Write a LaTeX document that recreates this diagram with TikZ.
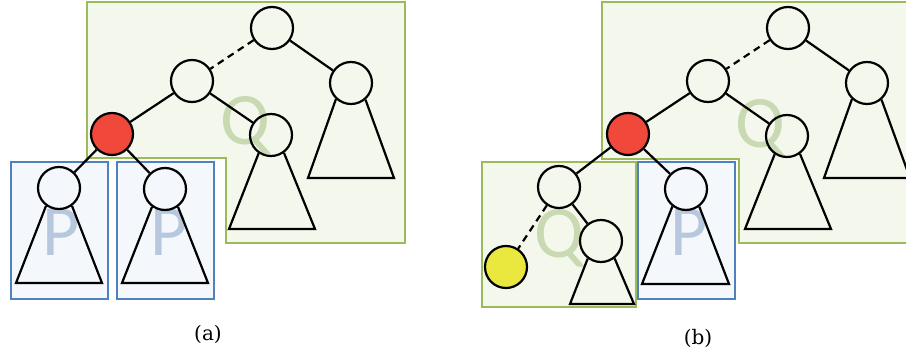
\documentclass[tikz,border=0pt]{standalone}
\usepackage{fontspec}
\newfontfamily\letterfont{Carlito}
\newfontfamily\capfont{DejaVu Serif}
\definecolor{qline}{HTML}{9BBB59}
\definecolor{qfill}{HTML}{F3F7EC}
\definecolor{qletter}{HTML}{C9D9B2}
\definecolor{pline}{HTML}{4F81BD}
\definecolor{pfill}{HTML}{F4F7FB}
\definecolor{pletter}{HTML}{B7C8DE}
\definecolor{nodered}{HTML}{F0483A}
\definecolor{nodeyellow}{HTML}{EAE83F}
\tikzset{
  tn/.style={circle, draw=black, line width=2.2pt, minimum size=42pt, inner sep=0pt},
  link/.style={line width=2.2pt, draw=black},
  dlink/.style={link, dash pattern=on 7pt off 5pt},
  subtree/.style={line width=2.2pt, draw=black, line join=miter},
  qregion/.style={draw=qline, fill=qfill, line width=2pt},
  pregion/.style={draw=pline, fill=pfill, line width=2pt},
  qtag/.style={text=qletter, font=\letterfont\fontsize{74}{74}\selectfont, inner sep=0pt, anchor=base},
  ptag/.style={text=pletter, font=\letterfont\fontsize{72}{72}\selectfont, inner sep=0pt, anchor=base},
  caption/.style={font=\capfont\fontsize{20}{20}\selectfont, inner sep=0pt}
}
\begin{document}
\begin{tikzpicture}[x=1pt, y=-1pt]
\useasboundingbox (0,0) rectangle (906,353);
\clip (0,0) rectangle (906,353);

% ---------- (a) ----------
\draw[qregion] (86.5,1.7) -- (405,1.7) -- (405,242.7) -- (226,242.7) -- (226,158.3) -- (86.5,158.3) -- cycle;
\draw[pregion] (11,162) rectangle (108,299);
\draw[pregion] (117,162) rectangle (214,299);

\node[qtag] (qa) at (245,145) {Q};
\node[ptag] (pa1) at (61,255) {P};
\node[ptag] (pa2) at (169,255) {P};

\node[tn] (ar)  at (272,28)  {};
\node[tn] (al)  at (192,81)  {};
\node[tn] (arc) at (351,83)  {};
\node[tn, fill=nodered] (ax) at (112,134) {};
\node[tn] (aq)  at (271,135) {};
\node[tn] (ap1) at (59,188)  {};
\node[tn] (ap2) at (165,189) {};

\draw[dlink] (ar) -- (al);
\draw[link] (ar) -- (arc);
\draw[link] (al) -- (ax);
\draw[link] (al) -- (aq);
\draw[link] (ax) -- (ap1);
\draw[link] (ax) -- (ap2);

\draw[subtree] (arc.-133) -- (308,178) -- (394,178) -- (arc.-49);
\draw[subtree] (aq.-124)  -- (229,229) -- (315,229) -- (aq.-54);
\draw[subtree] (ap1.-126) -- (16,283)  -- (102,283) -- (ap1.-54);
\draw[subtree] (ap2.-126) -- (122,283) -- (208,283) -- (ap2.-54);

\node[caption] (capa) at (208,334) {(a)};

% ---------- (b) ----------
\draw[qregion] (601.7,1.7) -- (921,1.7) -- (921,242.7) -- (738.7,242.7) -- (738.7,158.7) -- (601.7,158.7) -- cycle;
\draw[qregion] (482,162) rectangle (636,307);
\draw[pregion] (638,162) rectangle (735,299);

\node[qtag] (qb1) at (760,147) {Q};
\node[qtag] (qb2) at (559,257) {Q};
\node[ptag] (pb)  at (689,255) {P};

\node[tn] (br)  at (788,28)  {};
\node[tn] (bl)  at (708,81)  {};
\node[tn] (brc) at (867,83)  {};
\node[tn, fill=nodered] (bx) at (628,134) {};
\node[tn] (bq)  at (787,136) {};
\node[tn] (bs)  at (559,187) {};
\node[tn, fill=nodeyellow] (by) at (506,267) {};
\node[tn] (bo)  at (601,241) {};
\node[tn] (bp)  at (686,189) {};

\draw[dlink] (br) -- (bl);
\draw[link] (br) -- (brc);
\draw[link] (bl) -- (bx);
\draw[link] (bl) -- (bq);
\draw[link] (bx) -- (bs);
\draw[link] (bx) -- (bp);
\draw[dlink] (bs) -- (by);
\draw[link] (bs) -- (bo);

\draw[subtree] (brc.-133) -- (824,178) -- (910,178) -- (brc.-49);
\draw[subtree] (bq.-124)  -- (745,229) -- (831,229) -- (bq.-54);
\draw[subtree] (bo.-127)  -- (570,304) -- (634,304) -- (bo.-52);
\draw[subtree] (bp.-128)  -- (642,284) -- (729,284) -- (bp.-53);

\node[caption] (capb) at (698,338) {(b)};
\end{tikzpicture}
\end{document}
